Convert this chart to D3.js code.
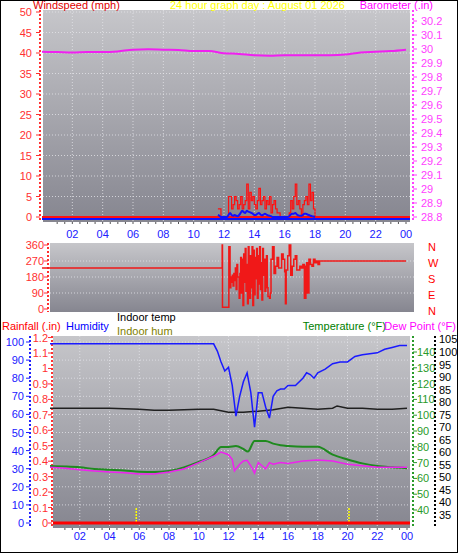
<!DOCTYPE html>
<html><head><meta charset="utf-8">
<script src="https://cdn.jsdelivr.net/npm/d3@7"></script>
<style>body{margin:0;background:#fff}svg{display:block}text{font-family:"Liberation Sans",Arial,sans-serif;font-size:11px}</style>
</head><body>
<script>
// ---------- DATA ----------
const hourLabels = ["02","04","06","08","10","12","14","16","18","20","22","00"];
const baroHours = d3.range(0,25);
const baroValues = [29.98,29.978,29.975,29.978,29.978,29.983,29.995,29.998,29.995,29.993,29.985,29.985,29.97,29.965,29.955,29.952,29.955,29.955,29.955,29.955,29.96,29.975,29.98,29.985,29.995];
const windStart = 11.6, windStep = 0.1;
const gustValues = [2,2,0,0,0,0,0,5,5,2,3,5,4,2,3,5,2,3,4,8,2,6,4,5,3,2,4,7,3,4,5,2,4,3,5,1,3,4,2,1,1,0,0,0,0,0,0,1,4,2,5,8,3,4,2,0,3,4,5,3,8,4,6,2,0];
const avgValues  = [0.5,0.3,0,0,0,0,0,0.5,1,0.5,0.3,0.5,0.3,0.2,0.5,1,1.5,1.2,1,1.5,1.3,1.2,1,0.8,0.5,0.5,0.8,1,0.6,0.4,0.6,0.8,0.6,0.4,0.3,0.2,0,0,0,0,0,0,0,0,0,0,0,0.2,0.6,0.8,0.8,1,0.6,0.4,0.3,0.3,0.5,0.8,0.8,0.6,0.5,0.3,0.2,0.1,0];
const dirHours  = [0,11.85,11.88,11.9,12.0,12.3,12.32,12.4,12.45,12.5,12.55,12.6,12.65,12.7,12.75,12.8,12.85,12.9,13.0,13.05,13.1,13.15,13.2,13.25,13.3,13.35,13.4,13.45,13.5,13.55,13.6,13.65,13.7,13.75,13.8,13.85,13.9,13.95,14.0,14.05,14.1,14.15,14.2,14.25,14.3,14.35,14.4,14.45,14.5,14.55,14.6,14.65,14.7,14.75,14.8,14.85,14.9,15.0,15.05,15.1,15.2,15.3,15.4,15.5,15.6,15.7,15.8,15.9,16.0,16.05,16.1,16.2,16.3,16.4,16.5,16.6,16.7,16.8,16.9,17.0,17.1,17.2,17.3,17.4,17.45,17.5,17.6,17.7,17.8,17.9,18.0,18.1,18.2,18.3,18.4,24];
const dirValues = [230,230,360,10,10,10,350,120,180,150,190,130,200,160,230,110,250,180,60,200,290,90,280,20,310,150,340,100,250,30,350,200,60,300,120,350,20,330,80,290,170,340,60,300,140,350,110,260,50,340,190,280,100,230,300,120,70,60,90,280,350,200,240,290,230,230,310,280,210,30,220,300,360,190,240,280,300,220,220,240,230,250,60,240,260,90,280,250,240,280,260,270,250,270,270,270];
const humHours  = [0,11.0,11.25,11.5,11.75,12.0,12.25,12.5,12.75,13.0,13.25,13.5,13.75,14.0,14.25,14.5,14.75,15.0,15.25,15.5,15.75,16.0,16.5,17.0,17.25,17.5,17.75,18.0,18.5,19.0,19.5,20,20.5,21,21.5,22,22.5,23,23.5,24];
const humValues = [99,99,95,89,84,86,76,59,70,78,83,72,53,72,72,64,58,70,73,74,74,76,76,80,83,82,80,83,85,88,89,89,92,93,93.5,94,96,97,98,98];
const tHours    = [0,1,2,3,4,5,6,7,8,9,10,11,11.5,12,12.5,13,13.3,13.75,14.5,15,15.5,16,17,18,19,20,21,22,23,24];
const tempValues= [67.8,67.5,67,66,65.5,65,64.2,64,64.7,67,70.4,74.8,79.9,79.9,80.5,78.6,77,83.7,83.7,82,81,80.5,80,80,75,72,69.5,67.8,67,66.5];
const dewHours  = [0,1,2,3,4,5,6,7,8,9,10,11,11.5,12,12.25,12.4,12.5,12.75,13,13.25,13.5,13.75,14,14.25,14.5,14.75,15,15.5,16,17,18,19,20,21,22,23,24];
const dewValues = [67,66.5,65.5,64.7,64,63.5,62.8,62.8,64,66,70,74,76.7,75,72,64.7,66,69,71,71.5,68,63.4,70,68,66,70,69,70,69.5,71,71.6,71,69,68,67,67,67];
const inHours   = [0,2,4,6,7,8,10,11,12,13,14,15,16,17,18,19,19.3,20,21,22,23,24];
const inTempValues = [77.6,77.6,77.6,77.2,76.8,76.8,77.2,77.2,76,76,76.4,77,78,77.6,77.2,77.6,78.5,77.6,77.6,77.2,77.2,77.6];

// ---------- DRAW ----------
const W=458,H=553;
const svg=d3.select("body").append("svg").attr("width",W).attr("height",H);
svg.append("rect").attr("x",0.5).attr("y",0.5).attr("width",W-1).attr("height",H-1).attr("fill","#fff").attr("stroke","#000");
const defs=svg.append("defs");
const g=defs.append("linearGradient").attr("id","bg").attr("x1",0).attr("y1",0).attr("x2",0).attr("y2",1);
g.append("stop").attr("offset","0%").attr("stop-color","#c6c6ca");
g.append("stop").attr("offset","100%").attr("stop-color","#868690");

function panel(x0,x1,y0,y1){
  svg.append("rect").attr("x",x0).attr("y",y0).attr("width",x1-x0).attr("height",y1-y0).attr("fill","url(#bg)");
}
function hgrid(x0,x1,ys){ys.forEach(y=>svg.append("line").attr("x1",x0).attr("x2",x1).attr("y1",y).attr("y2",y).attr("stroke","#e4e4e8").attr("stroke-dasharray","1,2").attr("stroke-opacity",0.8));}
function vgrid(xs,y0,y1){xs.forEach(x=>svg.append("line").attr("x1",x).attr("x2",x).attr("y1",y0).attr("y2",y1).attr("stroke","#e4e4e8").attr("stroke-dasharray","1,2").attr("stroke-opacity",0.8));}
function vaxis(x,y0,y1,color,scale,ticks,fmt,side,labelDx){
  svg.append("line").attr("x1",x).attr("x2",x).attr("y1",y0).attr("y2",y1).attr("stroke",color).attr("stroke-width",2).attr("stroke-dasharray","2,2");
  ticks.forEach(t=>{
    const y=scale(t);
    svg.append("line").attr("x1",x).attr("x2",x+(side<0?-4:4)).attr("y1",y).attr("y2",y).attr("stroke",color);
    svg.append("text").attr("x",x+labelDx).attr("y",y+4).attr("fill",color).attr("text-anchor",side<0?"end":"start").attr("font-size","10px").text(fmt(t));
  });
}
function hourAxis(x,y,yLab){
  d3.range(1,24.01,0.5).forEach(h=>svg.append("rect").attr("x",x(h)-0.5).attr("y",y).attr("width",1).attr("height",2).attr("fill","#555"));
  hourLabels.forEach((l,i)=>svg.append("text").attr("x",x(2*(i+1))).attr("y",yLab).attr("text-anchor","middle").attr("fill","#2020ff").text(l));
}

// Top panel
const xT=d3.scaleLinear([0,24],[42,406]);
const yW=d3.scaleLinear([0,50],[217,12]);
const yB=d3.scaleLinear([28.8,30.2],[217,21]);
panel(43,410,10,222);
hgrid(43,410,d3.range(5,51,5).map(yW));
vgrid(d3.range(2,24,2).map(xT),10,222);
vaxis(40,10,222,"#ff3030",yW,d3.range(0,51,5),d=>d,-1,-8);
vaxis(413,10,222,"#ff40ff",yB,d3.range(28.8,30.21,0.1),d=>+d.toFixed(1),1,8);
hourAxis(xT,222,238);
const lineT=(xs,ys,y)=>d3.line().x((d,i)=>xT(xs[i])).y(d=>y(d));
svg.append("path").attr("d",lineT(baroHours,baroValues,yB).curve(d3.curveMonotoneX)(baroValues)).attr("fill","none").attr("stroke","#f020f0").attr("stroke-width",2);
svg.append("line").attr("x1",xT(0)).attr("x2",410).attr("y1",yW(0)).attr("y2",yW(0)).attr("stroke","#ff1010").attr("stroke-width",2);
svg.append("line").attr("x1",xT(0)).attr("x2",410).attr("y1",yW(-0.5)).attr("y2",yW(-0.5)).attr("stroke","#1010ff").attr("stroke-width",2);
const wh=gustValues.map((d,i)=>windStart+i*windStep);
svg.append("path").attr("d",d3.line().x((d,i)=>xT(wh[i])).y(d=>yW(d)).curve(d3.curveStepAfter)(gustValues)).attr("fill","none").attr("stroke","#ff1010").attr("stroke-width",1.2);
svg.append("path").attr("d",d3.line().x((d,i)=>xT(wh[i])).y(d=>yW(d)).curve(d3.curveMonotoneX)(avgValues)).attr("fill","none").attr("stroke","#1010ff").attr("stroke-width",2);
svg.append("text").attr("x",33).attr("y",9).attr("fill","#e00000").attr("font-size","12px").text("Windspeed (mph)");
svg.append("text").attr("x",170).attr("y",9).attr("fill","#ffff00").attr("font-size","12px").text("24 hour graph day : August 01 2026");
svg.append("text").attr("x",433).attr("y",9).attr("text-anchor","end").attr("fill","#ff00ff").attr("font-size","12px").text("Barometer (.in)");

// Direction panel
const yD=d3.scaleLinear([0,360],[309,245]);
panel(50,414,243,312);
hgrid(50,414,[90,180,270].map(yD));
vaxis(48,243,312,"#ff3030",yD,[0,90,180,270,360],d=>d,-1,-4);
svg.append("path").attr("d",d3.line().x((d,i)=>xT(dirHours[i])).y(d=>yD(d)).curve(d3.curveStepAfter)(dirValues)).attr("fill","none").attr("stroke","#f01818").attr("stroke-width",1.5);
["N","W","S","E","N"].forEach((l,i)=>svg.append("text").attr("x",428).attr("y",yD(360-90*i)+6).attr("fill","#ff0000").attr("font-size","15px").text(l));

// Bottom panel
const xB=d3.scaleLinear([0,24],[50,407]);
const yH=d3.scaleLinear([0,100],[523,342]);
const yR=d3.scaleLinear([0,1.1],[523,353]);
const yTe=d3.scaleLinear([40,140],[510,352]);
const yIn=d3.scaleLinear([35,100],[515,352]);
panel(53,410,336,528);
hgrid(53,410,d3.range(10,101,10).map(yH));
vgrid(d3.range(2,24,2).map(xB),336,528);
vaxis(30,336,528,"#2020ff",yH,d3.range(0,101,10),d=>d,-1,-6);
vaxis(52,336,528,"#ff3030",yR,d3.range(0,1.21,0.1),d=>+d.toFixed(1),-1,-4);
vaxis(413,336,528,"#2a9a2a",yTe,d3.range(40,141,10),d=>d,1,4);
svg.append("line").attr("x1",435).attr("x2",435).attr("y1",336).attr("y2",528).attr("stroke","#000").attr("stroke-width",2).attr("stroke-dasharray","2,2");
d3.range(35,106,5).forEach(t=>svg.append("text").attr("x",439).attr("y",yIn(t)+4).attr("font-size","10px").attr("fill","#000").text(t));
hourAxis(xB,528,540);
[5.8,20.1].forEach(h=>svg.append("line").attr("x1",xB(h)).attr("x2",xB(h)).attr("y1",508).attr("y2",523).attr("stroke","#ffff00").attr("stroke-width",1.5).attr("stroke-dasharray","2,1"));
svg.append("line").attr("x1",53).attr("x2",410).attr("y1",yR(0)).attr("y2",yR(0)).attr("stroke","#ff0000").attr("stroke-width",3);
const lb=(xs,y)=>d3.line().x((d,i)=>xB(xs[i])).y(d=>y(d));
svg.append("path").attr("d",lb(inHours,yIn)(inTempValues)).attr("fill","none").attr("stroke","#202020").attr("stroke-width",1.5);
svg.append("path").attr("d",lb(tHours,yTe).curve(d3.curveMonotoneX)(tempValues)).attr("fill","none").attr("stroke","#1f8a1f").attr("stroke-width",2);
svg.append("path").attr("d",lb(dewHours,yTe)(dewValues)).attr("fill","none").attr("stroke","#ee22ee").attr("stroke-width",1.5);
svg.append("path").attr("d",lb(humHours,yH)(humValues)).attr("fill","none").attr("stroke","#1a1aff").attr("stroke-width",1.5);
svg.append("text").attr("x",2).attr("y",330).attr("fill","#ff0000").attr("font-size","12px").text("Rainfall (.in)");
svg.append("text").attr("x",66).attr("y",330).attr("fill","#0000ff").attr("font-size","12px").text("Humidity");
svg.append("text").attr("x",117).attr("y",321).attr("fill","#000").attr("font-size","12px").text("Indoor temp");
svg.append("text").attr("x",117).attr("y",335).attr("fill","#808000").attr("font-size","12px").text("Indoor hum");
svg.append("text").attr("x",386).attr("y",330).attr("text-anchor","end").attr("fill","#008000").attr("font-size","12px").text("Temperature (°F)");
svg.append("text").attr("x",456).attr("y",330).attr("text-anchor","end").attr("fill","#ff00ff").attr("font-size","12px").text("Dew Point (°F)");
</script>
</body></html>
